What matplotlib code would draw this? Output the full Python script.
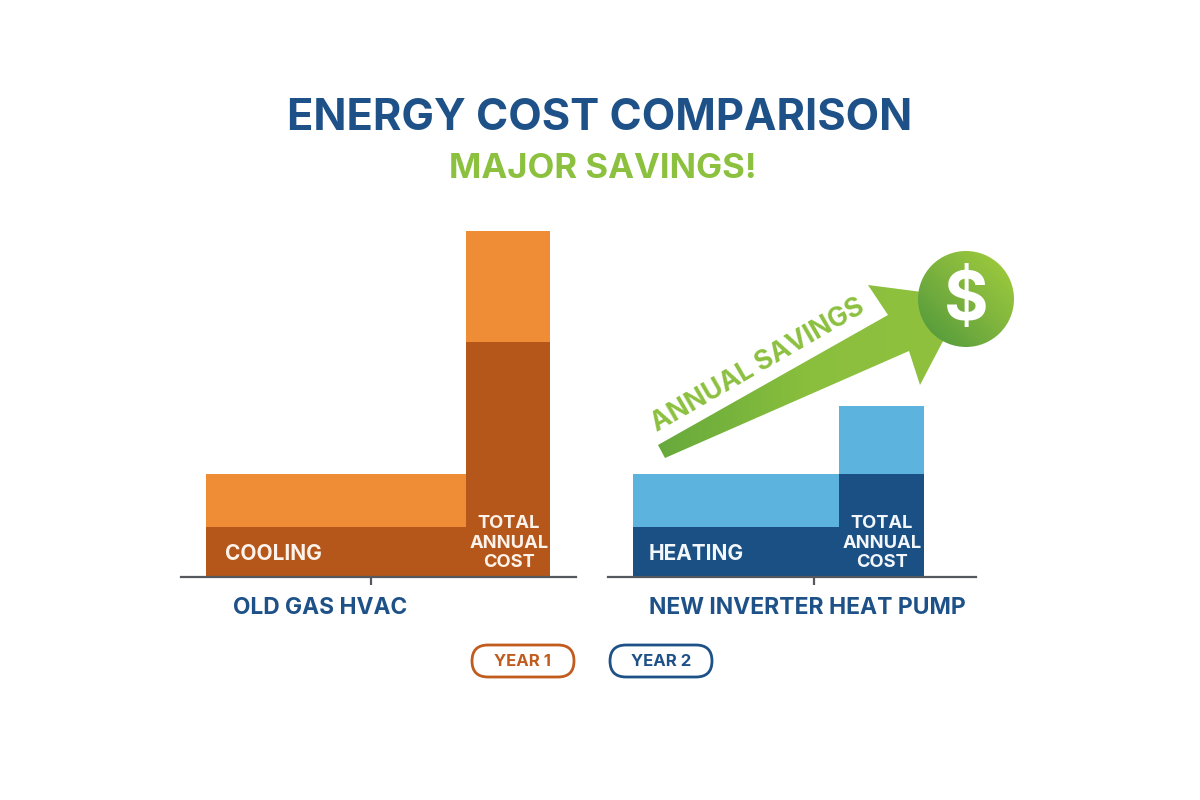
import numpy as np
import matplotlib
matplotlib.use('Agg')
import matplotlib.pyplot as plt
from matplotlib.colors import LinearSegmentedColormap
from matplotlib.patches import Polygon, Circle, FancyBboxPatch

plt.rcParams['font.family'] = ['Inter', 'DejaVu Sans']

#values, no scale is printed so the unit is arbitrary
old_labels = ['COOLING', 'TOTAL\nANNUAL\nCOST']
new_labels = ['HEATING', 'TOTAL\nANNUAL\nCOST']
old_year1 = [50, 235]
old_year2 = [53, 111]
new_year1 = [50, 103]
new_year2 = [53, 68]
systems = ['OLD GAS HVAC', 'NEW INVERTER HEAT PUMP']
legend_labels = ['YEAR 1', 'YEAR 2']

BLUE = '#1d5187'
ORANGE = '#c05c1e'
GREEN = '#8cc03f'
W, H = 1200, 800
BASE = 577  #pixel row of the baseline
TOP = 231  #pixel row of the tallest bar

fig = plt.figure(figsize=(12, 8), dpi=100)
fig.patch.set_facecolor('white')


#makes an axes from pixel coordinates of the reference
def panel(x0, x1):
    ax = fig.add_axes([x0 / W, 1 - BASE / H, (x1 - x0) / W, (BASE - TOP) / H])
    ax.set_xlim(x0, x1)
    ax.set_ylim(0, sum([old_year1[1], old_year2[1]]))
    ax.patch.set_alpha(0)
    for side in ['top', 'left', 'right']:
        ax.spines[side].set_visible(False)
    ax.spines['bottom'].set_color('#55595e')
    ax.spines['bottom'].set_linewidth(1.6)
    ax.set_yticks([])
    ax.tick_params(axis='x', length=6, width=1.6, color='#55595e', labelbottom=False)
    return ax


#draws the two stacked bars of one system
def draw_bars(ax, edges, year1, year2, dark, light):
    lefts = np.array(edges[:-1])
    widths = np.diff(edges)
    ax.bar(lefts, year1, widths, align='edge', color=dark, linewidth=0)
    ax.bar(lefts, year2, widths, bottom=year1, align='edge', color=light, linewidth=0)


ax_old = panel(181, 576)
draw_bars(ax_old, [206, 466, 550], old_year1, old_year2, '#b5561a', '#ee8d35')
ax_old.set_xticks([371])

ax_new = panel(608, 976)
draw_bars(ax_new, [633, 839, 924], new_year1, new_year2, '#1a5083', '#5bb3de')
ax_new.set_xticks([814])

#overlay in pixel coordinates for the title, arrow and labels
over = fig.add_axes([0, 0, 1, 1], zorder=5)
over.set_xlim(0, W)
over.set_ylim(H, 0)
over.axis('off')
over.patch.set_alpha(0)

over.text(600, 118.5, 'ENERGY COST COMPARISON', color=BLUE, fontsize=31.3, fontweight='bold', ha='center', va='center')
over.text(602.5, 168.5, 'MAJOR SAVINGS!', color=GREEN, fontsize=25, fontweight='bold', ha='center', va='center')

#arrow with a gradient
arrow_pts = [(658, 445), (888, 315), (868, 285), (922, 292), (960, 320), (942, 343), (920, 385), (909, 351), (665, 458)]
arrow_cmap = LinearSegmentedColormap.from_list('arrow', ['#66a93c', '#8abf3d', '#90c13e'])
xx = np.linspace(0, 1, 200).reshape(1, -1)
img = over.imshow(xx, cmap=arrow_cmap, extent=(655, 965, 460, 280), aspect='auto', zorder=2)
arrow = Polygon(arrow_pts, closed=True, transform=over.transData, facecolor='none', edgecolor='none')
over.add_patch(arrow)
img.set_clip_path(arrow)

#dollar coin, lighter towards the top right
coin_cmap = LinearSegmentedColormap.from_list('coin', ['#4c963c', '#7db33e', '#a4cf3c'])
gx, gy = np.meshgrid(np.linspace(0, 1, 120), np.linspace(0, 1, 120))
coin_img = over.imshow((gx + (1 - gy)) / 2, cmap=coin_cmap, extent=(918, 1014, 347, 251), aspect='auto', zorder=3)
coin = Circle((966, 299), 48, transform=over.transData, facecolor='none', edgecolor='none')
over.add_patch(coin)
coin_img.set_clip_path(coin)
over.text(966, 302, '$', color='white', fontsize=49, fontweight='bold', ha='center', va='center', zorder=4)

over.set_xlim(0, W)
over.set_ylim(H, 0)

over.text(758, 366, 'ANNUAL SAVINGS', color=GREEN, fontsize=19, fontweight='bold', rotation=30, rotation_mode='anchor', ha='center', va='center')

#labels inside the bars
over.text(273, 554, old_labels[0], color='#fdf3ea', fontsize=15, fontweight='bold', ha='center', va='center')
over.text(696, 554, new_labels[0], color='#f3f7fb', fontsize=15, fontweight='bold', ha='center', va='center')
over.text(509, 543, old_labels[1], color='#fdf3ea', fontsize=13.2, fontweight='bold', ha='center', va='center', linespacing=1.18)
over.text(882, 543, new_labels[1], color='#f3f7fb', fontsize=13.2, fontweight='bold', ha='center', va='center', linespacing=1.18)

over.text(320, 608, systems[0], color=BLUE, fontsize=16.4, fontweight='bold', ha='center', va='center')
over.text(807.5, 608, systems[1], color=BLUE, fontsize=16.5, fontweight='bold', ha='center', va='center')

#legend pills
for x0, label, col in [(472, legend_labels[0], ORANGE), (610, legend_labels[1], BLUE)]:
    pill = FancyBboxPatch((x0 + 16, 645 + 16), 102 - 32, 32 - 32, boxstyle='round,pad=16', facecolor='white', edgecolor=col, linewidth=2)
    over.add_patch(pill)
    over.text(x0 + 51, 662, label, color=col, fontsize=12, fontweight='bold', ha='center', va='center')

fig.savefig('out.png', dpi=100)
